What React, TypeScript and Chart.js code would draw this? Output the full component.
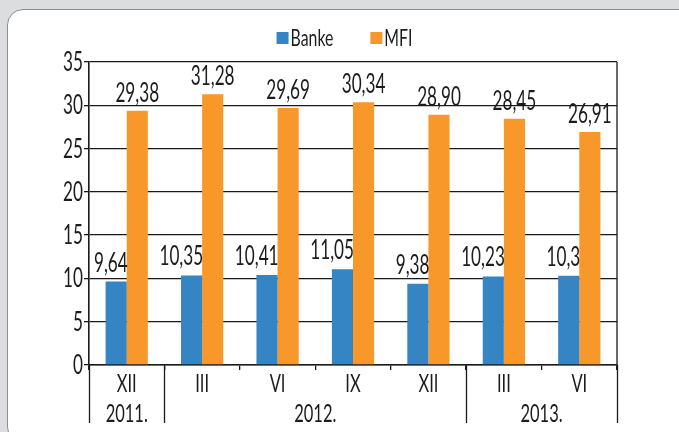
import React, { useEffect, useRef } from "react";
import { Chart, registerables } from "chart.js";

Chart.register(...registerables);

const categories = ["XII", "III", "VI", "IX", "XII", "III", "VI"];
const years = ["2011.", "2012.", "2013."];
const yearSpans = [1, 4, 2];
const seriesNames = ["Banke", "MFI"];
const bankeValues = [9.64, 10.35, 10.41, 11.05, 9.38, 10.23, 10.3];
const mfiValues = [29.38, 31.28, 29.69, 30.34, 28.9, 28.45, 26.91];
const bankeLabels = ["9,64", "10,35", "10,41", "11,05", "9,38", "10,23", "10,3"];
const mfiLabels = ["29,38", "31,28", "29,69", "30,34", "28,90", "28,45", "26,91"];
const yTicks = [0, 5, 10, 15, 20, 25, 30, 35];

const COLORS = ["#3585c4", "#f8972a"];
const FONT = "Lato, Roboto, sans-serif";
const SX = 0.66;
const TEXT = "#1c1c1c";
const LINE = "#1a1a1a";

function txt(ctx: any, s: string, x: number, y: number, align: string, size: number) {
  ctx.save();
  ctx.font = `${size}px ${FONT}`;
  ctx.fillStyle = TEXT;
  ctx.textBaseline = "alphabetic";
  ctx.textAlign = align;
  ctx.translate(x, y);
  ctx.scale(SX, 1);
  ctx.fillText(s, 0, 0);
  ctx.restore();
}

function textWidth(ctx: any, s: string, size: number) {
  ctx.save();
  ctx.font = `${size}px ${FONT}`;
  const w = ctx.measureText(s).width * SX;
  ctx.restore();
  return w;
}

const decorPlugin = {
  id: "decor",
  afterDatasetsDraw(chart: any) {
    const ctx = chart.ctx;
    const area = chart.chartArea;
    const xs = chart.scales.x;
    const ys = chart.scales.y;
    ctx.save();
    // right border
    ctx.strokeStyle = LINE;
    ctx.lineWidth = 1.3;
    ctx.beginPath();
    ctx.moveTo(area.right, area.top);
    ctx.lineTo(area.right, area.bottom);
    ctx.stroke();

    // y tick labels
    ys.ticks.forEach((t: any) => {
      txt(ctx, String(t.value), area.left - 6, ys.getPixelForValue(t.value) + 9, "right", 26);
    });

    // value labels
    const labelSets = [bankeLabels, mfiLabels];
    chart.data.datasets.forEach((_: any, di: number) => {
      const meta = chart.getDatasetMeta(di);
      meta.data.forEach((bar: any, i: number) => {
        const half = bar.width / 2;
        if (di === 0) {
          txt(ctx, labelSets[di][i], bar.x + half + 1, bar.y - 10, "right", 26);
        } else {
          txt(ctx, labelSets[di][i], bar.x, bar.y - 9, "center", 26);
        }
      });
    });

    // month labels
    categories.forEach((c, i) => {
      txt(ctx, c, xs.getPixelForValue(i), area.bottom + 27, "center", 25);
    });

    // year row
    const n = categories.length;
    const w = (xs.right - xs.left) / n;
    let start = 0;
    const bounds = [0];
    yearSpans.forEach((span, k) => {
      const x0 = xs.left + start * w;
      const x1 = xs.left + (start + span) * w;
      txt(ctx, years[k], (x0 + x1) / 2, area.bottom + 57, "center", 25);
      start += span;
      bounds.push(start);
    });
    ctx.strokeStyle = LINE;
    ctx.lineWidth = 1.3;
    ctx.beginPath();
    bounds.forEach((b) => {
      const x = Math.round(xs.left + b * w) + 0.5;
      ctx.moveTo(x, area.bottom);
      ctx.lineTo(x, area.bottom + 58);
    });
    ctx.stroke();

    // legend
    const box = 12;
    const gapText = 2;
    const gapItem = 37;
    const widths = seriesNames.map((s) => textWidth(ctx, s, 24));
    const total = widths.reduce((a, b) => a + b, 0) + seriesNames.length * (box + gapText) + gapItem;
    let lx = 344.5 - total / 2;
    seriesNames.forEach((s, k) => {
      ctx.fillStyle = COLORS[k];
      ctx.fillRect(lx, 32, box, box);
      lx += box + gapText;
      txt(ctx, s, lx, 46, "left", 24);
      lx += widths[k] + gapItem;
    });
    ctx.restore();
  },
};

export default function App() {
  const ref = useRef<HTMLCanvasElement>(null);
  useEffect(() => {
    const chart = new Chart(ref.current!, {
      type: "bar",
      data: {
        labels: categories,
        datasets: [
          { label: seriesNames[0], data: bankeValues, backgroundColor: COLORS[0] },
          { label: seriesNames[1], data: mfiValues, backgroundColor: COLORS[1] },
        ],
      },
      options: {
        animation: false,
        responsive: false,
        devicePixelRatio: 1,
        layout: { padding: { top: 62, right: 62, bottom: 0, left: 0 } },
        datasets: {
          bar: { categoryPercentage: 0.56, barPercentage: 1 },
        },
        plugins: {
          legend: { display: false },
          tooltip: { enabled: false },
        },
        scales: {
          x: {
            grid: {
              offset: true,
              drawOnChartArea: false,
              color: LINE,
              lineWidth: 1.3,
              tickLength: 5,
            },
            border: { color: LINE, width: 1.6 },
            ticks: { display: false, autoSkip: false },
            afterFit(s: any) {
              s.height = 67;
            },
          },
          y: {
            min: 0,
            max: 35,
            afterBuildTicks(s: any) {
              s.ticks = yTicks.map((v) => ({ value: v }));
            },
            grid: { color: LINE, lineWidth: 1.3, tickLength: 5 },
            border: { color: LINE, width: 1.6 },
            ticks: { display: false },
            afterFit(s: any) {
              s.width = 89;
            },
          },
        },
      },
      plugins: [decorPlugin],
    });
    return () => chart.destroy();
  }, []);
  return (
    <div style={{ position: "fixed", inset: 0, background: "#dcdddf", overflow: "hidden" }}>
      <div
        style={{
          position: "absolute",
          left: 7,
          top: 9,
          width: 690,
          height: 432,
          border: "1.5px solid #8d8d8d",
          borderRadius: 16,
          background: "#ffffff",
        }}
      />
      <canvas ref={ref} width={679} height={432} style={{ position: "absolute", left: 0, top: 0 }} />
    </div>
  );
}
